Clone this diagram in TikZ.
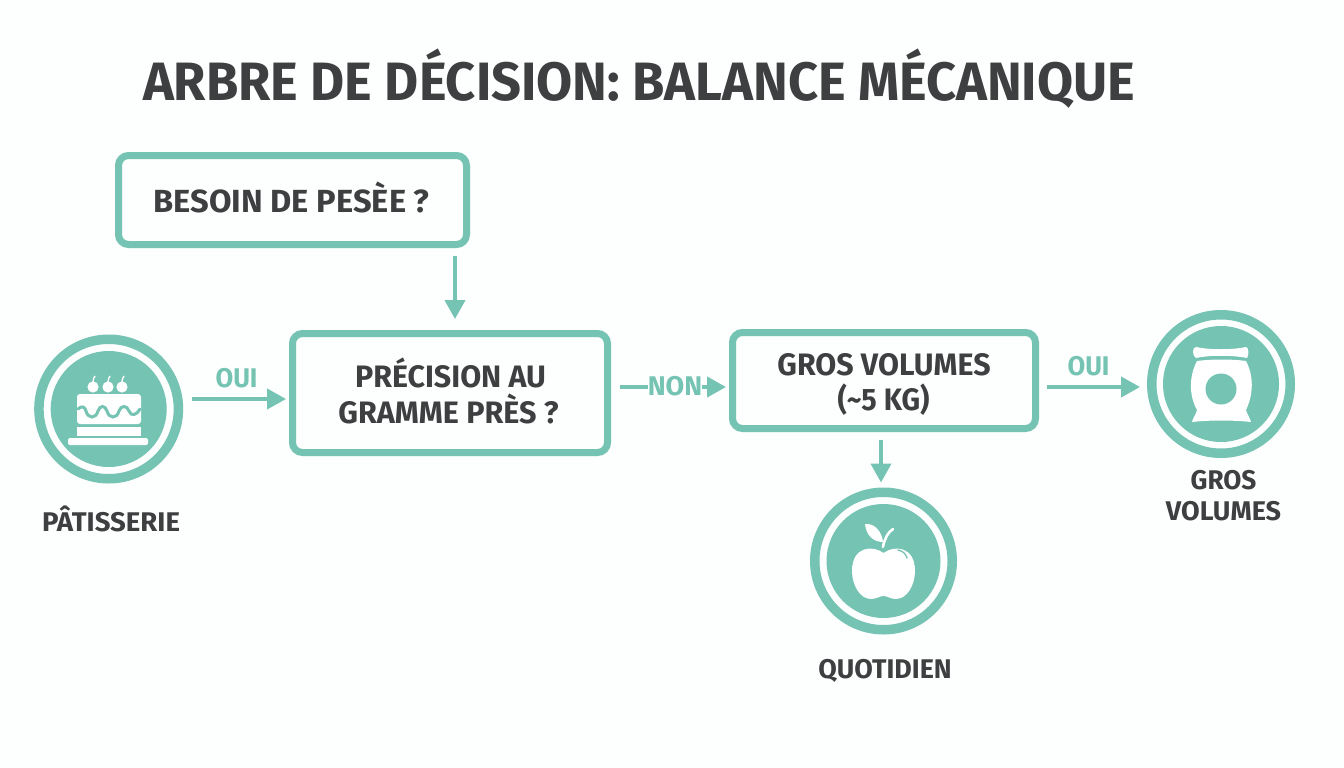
\documentclass[tikz,border=0pt]{standalone}
\usepackage{fontspec}
\setmainfont{Fira Sans}
\usetikzlibrary{arrows.meta}
\definecolor{teal1}{HTML}{74C3B3}
\definecolor{ink}{HTML}{3E3F40}
\definecolor{bg}{HTML}{FDFEFE}
\tikzset{
  x=1pt,y=-1pt,
  box/.style={draw=teal1,line width=7pt,rounded corners=10pt,fill=bg,inner sep=0pt},
  ring/.style={circle,draw=teal1,line width=9.5pt,fill=bg,inner sep=0pt,minimum size=139.5pt},
  disc/.style={fill=teal1,draw=none},
  conn/.style={draw=teal1,line width=4pt,-{Triangle[length=19pt,width=20pt]}},
  lab/.style={text=ink,font=\bfseries\fontsize{#1}{#1}\selectfont,inner sep=0pt,anchor=center,transform shape},
  edgelab/.style={text=teal1,font=\bfseries\fontsize{#1}{#1}\selectfont,inner sep=0pt,anchor=center,transform shape},
}
\begin{document}
\begin{tikzpicture}
\useasboundingbox (0,0) rectangle (1344,768);
\fill[bg] (0,0) rectangle (1344,768);
\node[lab=54,xscale=0.97] (title) at (639,79) {ARBRE DE DÉCISION: BALANCE MÉCANIQUE};
\node[box,minimum width=348pt,minimum height=89pt] (b1) at (292.5,200) {};
\node[lab=32,xscale=1.02] (t1) at (291.5,197) {BESOIN DE PESÈE ?};
\node[box,minimum width=315pt,minimum height=119pt] (b2) at (450,393) {};
\node[lab=31,xscale=0.98] (t2a) at (450.5,373) {PRÉCISION AU};
\node[lab=31,xscale=0.985] (t2b) at (448.5,409) {GRAMME PRÈS ?};
\node[box,minimum width=303pt,minimum height=96pt] (b3) at (884,380.5) {};
\node[lab=31,xscale=0.98] (t3a) at (884,365) {GROS VOLUMES};
\node[lab=31,xscale=0.93] (t3b) at (883.5,400) {(\char"007E 5 KG)};
% left circle
\node[ring] (c1) at (108.7,409) {};
\fill[disc] (c1.center) circle (58);
\fill[white,rounded corners=2pt] (68,438) rectangle (148,445);
\fill[white] (77,427) rectangle (141,436);
\fill[white,rounded corners=3pt] (77,424) -- (77,394) -- (141,394) -- (141,424) -- cycle;
\draw[teal1,line width=3pt,line cap=round] (78,409) .. controls (82,405) and (85,407) .. (86,411) .. controls (88,419) and (96,419) .. (98,411) .. controls (100,405) and (105,405) .. (107,411) .. controls (109,419) and (117,419) .. (119,411) .. controls (121,405) and (127,405) .. (129,411) .. controls (131,417) and (137,415) .. (140,409);
\foreach \cx in {93,108,122}{
  \fill[white] (\cx,387) circle (5.6);
  \draw[white,line width=1.4pt] (\cx,382) .. controls (\cx,379) and (\cx+1,378) .. (\cx+2,376);
}
% apple circle
\node[ring,minimum size=137.5pt] (c2) at (883.5,561) {};
\fill[disc] (c2.center) circle (57);
\fill[white] (883.5,553) .. controls (873,545) and (852,546) .. (852,571) .. controls (852,585) and (860,599) .. (871,599) .. controls (877,599) and (879,596) .. (883.5,596) .. controls (888,596) and (890,599) .. (896,599) .. controls (907,599) and (915,585) .. (915,571) .. controls (915,546) and (894,545) .. (883.5,553) -- cycle;
\fill[white] (865,524) .. controls (875,523) and (882,532) .. (883,542) .. controls (873,542) and (866,535) .. (865,524) -- cycle;
\draw[white,line width=2.6pt,line cap=round] (883,547) .. controls (884,540) and (888,532) .. (893,529);
\draw[teal1,line width=1.3pt,line cap=round] (898,550) .. controls (903,551) and (906,554) .. (907,558);
% bag circle
\node[ring,minimum size=138.5pt] (c3) at (1221,384) {};
\fill[disc] (c3.center) circle (58);
\fill[white] (1196,347) .. controls (1210,350) and (1232,350) .. (1246,347) .. controls (1249,347) and (1249,356) .. (1247,358) .. controls (1232,355) and (1210,355) .. (1196,358) .. controls (1192,356) and (1192,347) .. (1196,347) -- cycle;
\fill[white] (1197,361) .. controls (1212,359) and (1232,359) .. (1246,361) .. controls (1256,380) and (1251,400) .. (1246,410) .. controls (1247,414) and (1250,418) .. (1251,422) .. controls (1232,420) and (1210,420) .. (1192,422) .. controls (1193,418) and (1196,414) .. (1197,410) .. controls (1191,400) and (1187,380) .. (1197,361) -- cycle;
\fill[teal1] (1221,389) circle (15.5);
% labels under circles
\node[lab=27,xscale=1.02] (l1) at (111,519) {PÂTISSERIE};
\node[lab=27,xscale=0.995] (l2) at (885,671) {QUOTIDIEN};
\node[lab=27,xscale=0.97] (l3a) at (1223.5,480) {GROS};
\node[lab=27,xscale=1.0] (l3b) at (1223.5,511) {VOLUMES};
% connectors
\coordinate (p1) at ([xshift=162.5pt]b1.south);
\coordinate (p2) at ([yshift=10pt]c1.east);
\coordinate (p3) at ([yshift=-6.5pt]b3.west);
\coordinate (p4) at ([xshift=-3pt]b3.south);
\coordinate (p5) at ([yshift=-6.5pt]b3.east);
\draw[conn,shorten <=8pt,shorten >=11pt] (p1) -- (p1 |- b2.north);
\draw[conn,shorten <=9pt,shorten >=3pt] (p2) -- (p2 -| b2.west);
\draw[conn,shorten <=9pt,shorten >=3pt] (p3 -| b2.east) -- (p3);
\draw[conn,shorten <=8pt,shorten >=5pt] (p4) -- (p4 |- c2.north);
\draw[conn,shorten <=8pt,shorten >=7pt] (p5) -- (p5 -| c3.west);
% edge labels
\node[edgelab=27,xscale=0.95] (e1) at (236.5,378) {OUI};
\node[edgelab=27,xscale=1.0,fill=bg] (e2) at (675,386) {NON};
\node[edgelab=27,xscale=0.95] (e3) at (1088.5,366) {OUI};
\end{tikzpicture}
\end{document}
